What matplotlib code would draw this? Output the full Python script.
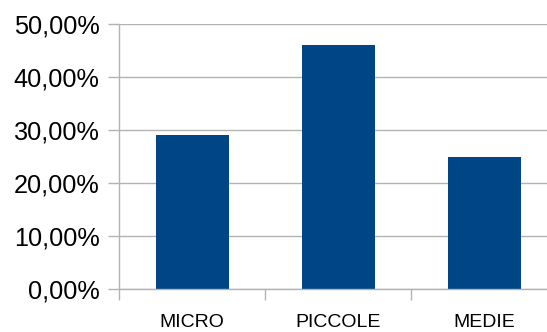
import matplotlib
matplotlib.use("Agg")
import matplotlib.pyplot as plt
from matplotlib.ticker import FixedLocator, FuncFormatter

categories = ["MICRO", "PICCOLE", "MEDIE"]
shares = [29.0, 46.0, 25.0]
y_ticks = [0, 10, 20, 30, 40, 50]

bar_color = "#004586"
grid_color = "#b3b3b3"

plt.rcParams["font.family"] = ["Liberation Sans", "DejaVu Sans"]

fig = plt.figure(figsize=(5.47, 3.32), dpi=100)
ax = fig.add_axes([119 / 547, 1 - 289 / 332, 438 / 547, 265 / 332])

x = list(range(len(categories)))
ax.bar(x, shares, width=0.5, color=bar_color, zorder=3)

ax.set_xlim(-0.5, len(categories) - 0.5)
ax.set_ylim(0, 50)

ax.set_yticks(y_ticks)
ax.yaxis.set_major_formatter(FuncFormatter(lambda v, _: f"{v:.2f}%".replace(".", ",")))
ax.grid(axis="y", color=grid_color, linewidth=1.0, zorder=0)
ax.tick_params(axis="y", which="major", direction="out", length=8, width=1.0,
               color=grid_color, labelsize=18.2, pad=6, labelcolor="black")

ax.set_xticks(x)
ax.set_xticklabels(categories)
ax.xaxis.set_minor_locator(FixedLocator([i - 0.5 for i in range(len(categories) + 1)]))
ax.tick_params(axis="x", which="major", length=0, labelsize=14, pad=18, labelcolor="black")
ax.tick_params(axis="x", which="minor", direction="out", length=8, width=1.0, color=grid_color)

for side in ("top", "right"):
    ax.spines[side].set_visible(False)
for side in ("left", "bottom"):
    ax.spines[side].set_color(grid_color)
    ax.spines[side].set_linewidth(1.0)
    ax.spines[side].set_zorder(4)

fig.savefig("out.png", dpi=100)
